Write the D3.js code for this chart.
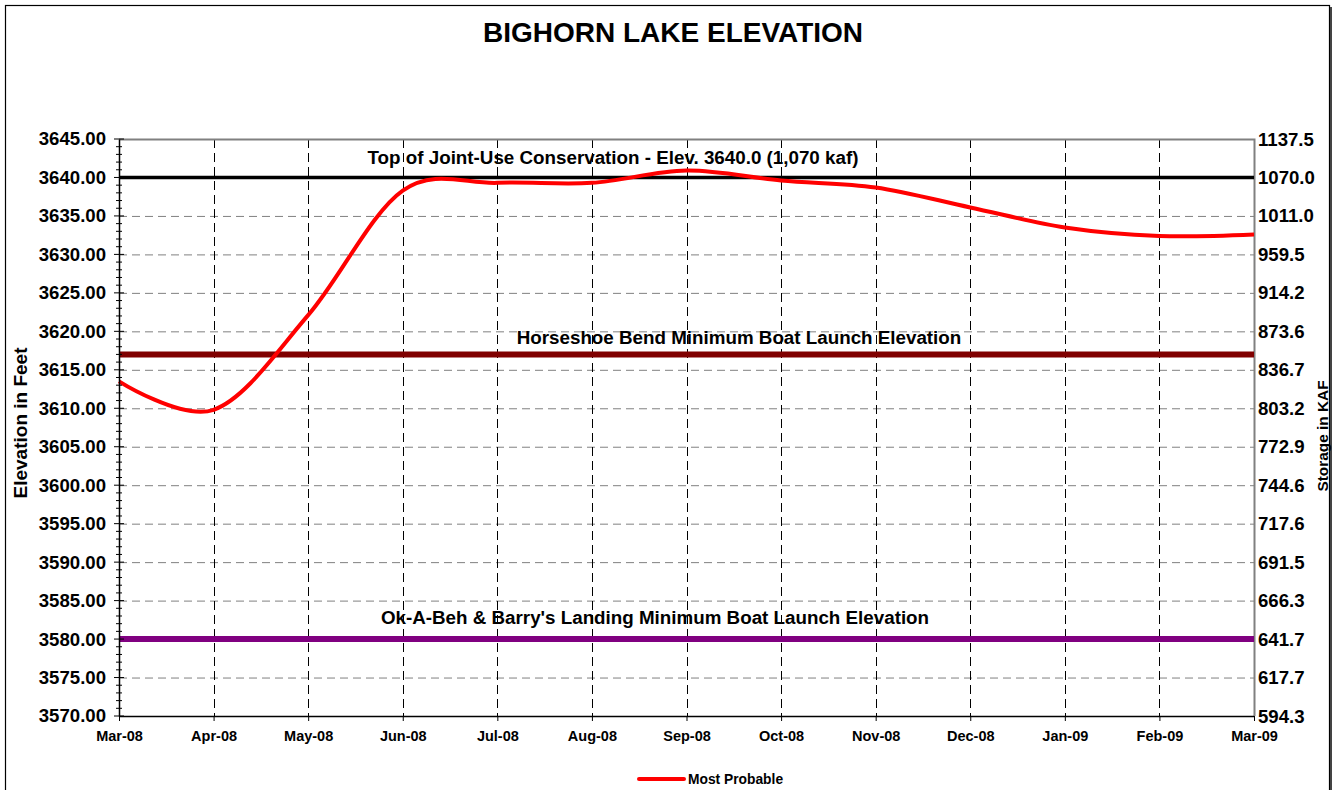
<!DOCTYPE html>
<html>
<head>
<meta charset="utf-8">
<script src="https://cdn.jsdelivr.net/npm/d3@7"></script>
<style>
  html, body { margin: 0; padding: 0; background: #fff; }
  svg { display: block; font-family: "Liberation Sans", Arial, sans-serif; }
</style>
</head>
<body>
<svg id="chart" width="1333" height="790"></svg>
<script>
// ---- Data ----
const months = ["Mar-08","Apr-08","May-08","Jun-08","Jul-08","Aug-08","Sep-08","Oct-08","Nov-08","Dec-08","Jan-09","Feb-09","Mar-09"];
const mostProbable = [3613.5, 3609.8, 3622.1, 3638.3, 3639.3, 3639.3, 3640.9, 3639.6, 3638.7, 3636.1, 3633.5, 3632.4, 3632.6];
const elevationTicks = [3570, 3575, 3580, 3585, 3590, 3595, 3600, 3605, 3610, 3615, 3620, 3625, 3630, 3635, 3640, 3645];
const storageLabels = ["594.3","617.7","641.7","666.3","691.5","717.6","744.6","772.9","803.2","836.7","873.6","914.2","959.5","1011.0","1070.0","1137.5"];
const refValues = [3640, 3617, 3580];
const refNames = ["Top of Joint-Use Conservation - Elev. 3640.0 (1,070 kaf)", "Horseshoe Bend Minimum Boat Launch Elevation", "Ok-A-Beh & Barry's Landing Minimum Boat Launch Elevation"];
const refColors = ["#000000", "#800000", "#800080"];

// ---- Layout ----
const svg = d3.select("#chart");
const L = 119, R = 1254, T = 139, B = 716;

const x = d3.scalePoint().domain(months).range([L, R]);
const y = d3.scaleLinear().domain([3570, 3645]).range([B, T]);

// outer frame
svg.append("rect").attr("x", 5.5).attr("y", 5.5).attr("width", 1324).attr("height", 800)
  .attr("fill", "none").attr("stroke", "#000").attr("stroke-width", 1.2);
svg.append("line").attr("x1", 1331).attr("x2", 1331).attr("y1", 7).attr("y2", 790)
  .attr("stroke", "#444").attr("stroke-width", 2);

// title
svg.append("text").attr("x", 673).attr("y", 42).attr("text-anchor", "middle")
  .attr("font-size", 28).attr("font-weight", "bold").text("BIGHORN LAKE ELEVATION");

// horizontal grid
svg.append("g").selectAll("line").data(elevationTicks.filter(v => v > 3570 && v < 3645)).join("line")
  .attr("x1", L).attr("x2", R).attr("y1", d => y(d) + 0.5).attr("y2", d => y(d) + 0.5)
  .attr("stroke", "#808080").attr("stroke-width", 1).attr("stroke-dasharray", "8,5");

// vertical grid
svg.append("g").selectAll("line").data(months.slice(1, -1)).join("line")
  .attr("x1", d => Math.round(x(d)) + 0.5).attr("x2", d => Math.round(x(d)) + 0.5)
  .attr("y1", T).attr("y2", B)
  .attr("stroke", "#000").attr("stroke-width", 1).attr("stroke-dasharray", "9,5");

// plot border top & right (gray)
svg.append("path").attr("d", `M${L},${T + 0.5}H${R + 0.5}V${B}`)
  .attr("fill", "none").attr("stroke", "#808080").attr("stroke-width", 2);

// reference lines
const refW = [3.5, 6, 6];
svg.append("g").selectAll("line").data(refValues).join("line")
  .attr("x1", L).attr("x2", R).attr("y1", d => y(d)).attr("y2", d => y(d))
  .attr("stroke", (d, i) => refColors[i]).attr("stroke-width", (d, i) => refW[i]);

// reference labels
const refLabelX = [613, 739, 655];
const refLabelDy = [-13, -10, -15];
svg.append("g").selectAll("text").data(refValues).join("text")
  .attr("x", (d, i) => refLabelX[i]).attr("y", (d, i) => y(d) + refLabelDy[i])
  .attr("text-anchor", "middle").attr("font-size", 18.8).attr("font-weight", "bold")
  .text((d, i) => refNames[i]);

// most probable curve
const line = d3.line().x((d, i) => x(months[i])).y(d => y(d)).curve(d3.curveCardinal.tension(0));
svg.append("path").datum(mostProbable).attr("d", line)
  .attr("fill", "none").attr("stroke", "#ff0000").attr("stroke-width", 4).attr("stroke-linejoin", "round");

// left axis
const leftAxis = d3.axisLeft(y).tickValues(elevationTicks).tickSize(0).tickPadding(13).tickFormat(d3.format(".2f"));
const gL = svg.append("g").attr("transform", `translate(${L},0)`).call(leftAxis);
gL.select(".domain").attr("stroke", "#000").attr("stroke-width", 1.5);
gL.selectAll("text").attr("font-size", 18.6).attr("font-weight", "bold").attr("fill", "#000")
  .attr("font-family", "Liberation Sans, Arial, sans-serif");
// major & minor ticks (crossing)
const minor = d3.range(3570, 3645.01, 1);
svg.append("g").selectAll("line").data(minor).join("line")
  .attr("x1", d => d % 5 === 0 ? L - 5 : L - 3).attr("x2", d => d % 5 === 0 ? L + 5 : L + 3)
  .attr("y1", d => y(d)).attr("y2", d => y(d)).attr("stroke", "#000").attr("stroke-width", 1);

// right axis (storage labels)
svg.append("g").selectAll("text").data(elevationTicks).join("text")
  .attr("x", R + 4).attr("y", d => y(d) + 6.5).attr("font-size", 18.6).attr("font-weight", "bold")
  .text((d, i) => storageLabels[i]);

// bottom axis
const bottomAxis = d3.axisBottom(x).tickSize(5).tickPadding(10);
const gB = svg.append("g").attr("transform", `translate(0,${B})`).call(bottomAxis);
gB.select(".domain").attr("stroke", "#000").attr("stroke-width", 1.5).attr("d", `M${L},0.5H${R}`);
gB.selectAll(".tick line").attr("stroke", "#000");
gB.selectAll("text").attr("font-size", 14.5).attr("font-weight", "bold").attr("fill", "#000")
  .attr("font-family", "Liberation Sans, Arial, sans-serif");

// axis titles
svg.append("text").attr("transform", "translate(27,423) rotate(-90)").attr("text-anchor", "middle")
  .attr("font-size", 19).attr("font-weight", "bold").text("Elevation in Feet");
svg.append("text").attr("transform", "translate(1328,436) rotate(-90)").attr("text-anchor", "middle")
  .attr("font-size", 15.4).attr("font-weight", "bold").text("Storage in KAF");

// legend
svg.append("line").attr("x1", 639).attr("x2", 684).attr("y1", 779).attr("y2", 779)
  .attr("stroke", "#ff0000").attr("stroke-width", 4).attr("stroke-linecap", "round");
svg.append("text").attr("x", 688).attr("y", 784).attr("font-size", 13.8).attr("font-weight", "bold")
  .text("Most Probable");
</script>
</body>
</html>
